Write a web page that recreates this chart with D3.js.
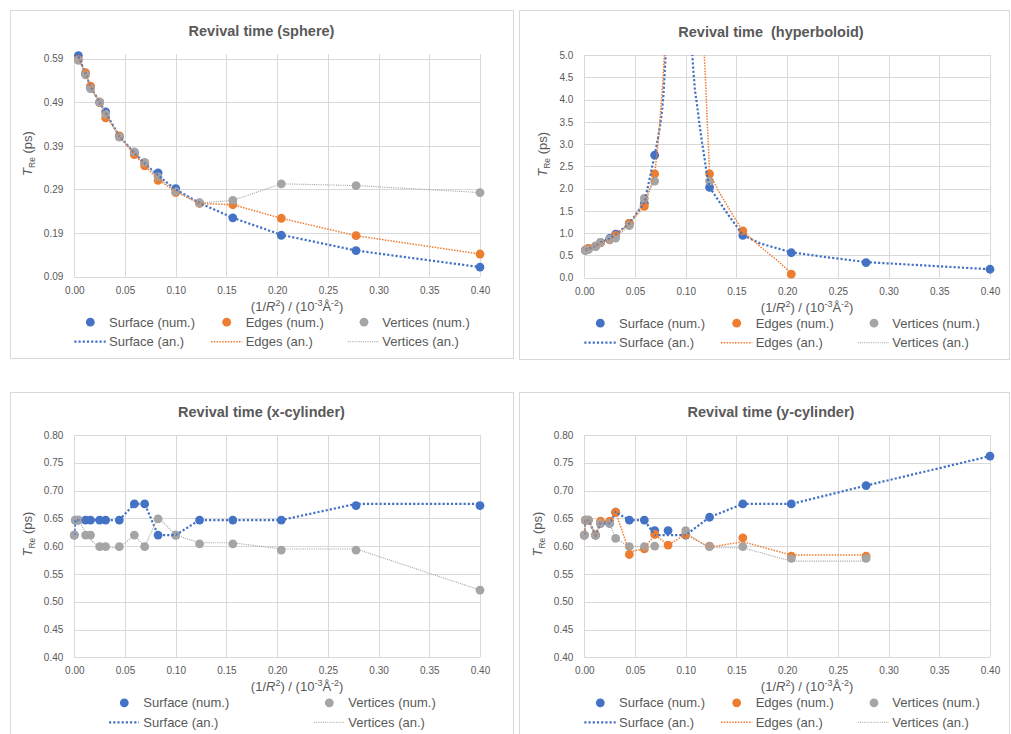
<!DOCTYPE html>
<html><head><meta charset="utf-8">
<script src="https://cdn.jsdelivr.net/npm/d3@7"></script>
<style>
body{margin:0;background:#fff}
svg text{font-family:"Liberation Sans",Arial,sans-serif;fill:#595959;white-space:pre}
</style>
</head><body>
<svg id="c" width="1011" height="734"></svg>
<script>
// ---------------- DATA ----------------
const xTicks = [0, 0.05, 0.10, 0.15, 0.20, 0.25, 0.30, 0.35, 0.40];
const sphereYTicks = [0.09, 0.19, 0.29, 0.39, 0.49, 0.59];
const hypYTicks = [0, 0.5, 1, 1.5, 2, 2.5, 3, 3.5, 4, 4.5, 5];
const cylYTicks = [0.40, 0.45, 0.50, 0.55, 0.60, 0.65, 0.70, 0.75, 0.80];

// Sphere
const sphereX = [0.004, 0.0111, 0.016, 0.025, 0.0309, 0.0444, 0.0592, 0.0694, 0.0826, 0.1, 0.1235, 0.1563, 0.2041, 0.2778, 0.4];
const sphereSurfNum = [0.597, 0.555, 0.524, 0.49, 0.468, 0.412, 0.375, 0.35, 0.328, 0.292, 0.259, 0.225, 0.185, 0.15, 0.112];
const sphereEdgeNum = [0.588, 0.558, 0.527, 0.49, 0.454, 0.413, 0.37, 0.344, 0.311, 0.283, 0.258, 0.255, 0.224, 0.184, 0.142];
const sphereVertNum = [0.586, 0.553, 0.521, 0.49, 0.463, 0.41, 0.376, 0.352, 0.319, 0.285, 0.259, 0.265, 0.303, 0.299, 0.283];
const sphereSurfAn = [0.595, 0.556, 0.525, 0.49, 0.466, 0.412, 0.374, 0.35, 0.322, 0.29, 0.259, 0.225, 0.186, 0.15, 0.112];
const sphereEdgeAn = [0.59, 0.558, 0.526, 0.49, 0.46, 0.413, 0.37, 0.345, 0.313, 0.285, 0.258, 0.255, 0.224, 0.184, 0.142];
const sphereVertAn = [0.588, 0.554, 0.522, 0.49, 0.464, 0.41, 0.376, 0.35, 0.318, 0.286, 0.259, 0.265, 0.303, 0.299, 0.283];

// Hyperboloid
const hypX = [0.001, 0.004, 0.0111, 0.016, 0.025, 0.0309, 0.0444, 0.0592, 0.0694, 0.1235, 0.1563, 0.2041, 0.2778, 0.4];
const hypSurfNum = [0.62, 0.65, 0.71, 0.79, 0.88, 0.98, 1.22, 1.67, 2.75, 2.03, 0.95, 0.56, 0.34, 0.19];
const hypEdgeNum = [0.62, 0.66, 0.71, 0.78, 0.85, 0.95, 1.22, 1.6, 2.33, 2.33, 1.05, 0.08, null, null];
const hypVertNum = [0.61, 0.63, 0.7, 0.79, 0.86, 0.89, 1.17, 1.78, 2.17, 2.17, null, null, null, null];
const hypSurfAnLeftX = [0.001, 0.004, 0.0111, 0.016, 0.025, 0.0309, 0.0444, 0.0592, 0.0694, 0.0723, 0.0746, 0.0766, 0.0779, 0.0789, 0.0802, 0.081];
const hypSurfAnLeft = [0.62, 0.65, 0.71, 0.79, 0.88, 0.97, 1.22, 1.68, 2.75, 3.09, 3.39, 3.73, 4.06, 4.44, 5.0, 5.3];
const hypSurfAnRightX = [0.1055, 0.1065, 0.1075, 0.1091, 0.1114, 0.1134, 0.1157, 0.1183, 0.1207, 0.1235, 0.1321, 0.142, 0.1563, 0.1732, 0.2041, 0.239, 0.2778, 0.4];
const hypSurfAnRight = [5.4, 5.0, 4.66, 4.21, 3.84, 3.47, 3.09, 2.72, 2.34, 2.03, 1.74, 1.41, 0.96, 0.77, 0.57, 0.46, 0.35, 0.19];
const hypEdgeAnLeftX = [0.001, 0.004, 0.0111, 0.016, 0.025, 0.0309, 0.0444, 0.0592, 0.0694, 0.072, 0.074, 0.0763, 0.0779, 0.079, 0.0796];
const hypEdgeAnLeft = [0.62, 0.66, 0.71, 0.78, 0.85, 0.95, 1.22, 1.6, 2.33, 2.87, 3.39, 4.03, 4.59, 5.0, 5.4];
const hypEdgeAnRightX = [0.118, 0.1183, 0.12, 0.1213, 0.1226, 0.1235, 0.1338, 0.1453, 0.1563, 0.1732, 0.1897, 0.2041];
const hypEdgeAnRight = [5.4, 5.0, 4.21, 3.47, 2.87, 2.33, 1.89, 1.45, 1.05, 0.70, 0.40, 0.10];
const hypVertAnX = [0.001, 0.004, 0.0111, 0.016, 0.025, 0.0309, 0.0444, 0.0592, 0.0694];
const hypVertAn = [0.62, 0.64, 0.71, 0.78, 0.86, 0.9, 1.17, 1.78, 2.17];

// Cylinders
const cylX = [0, 0.001, 0.004, 0.0111, 0.016, 0.025, 0.0309, 0.0444, 0.0592, 0.0694, 0.0826, 0.1, 0.1235, 0.1563, 0.2041, 0.2778, 0.4];
const xcylSurfNum = [0.62, 0.647, 0.647, 0.647, 0.647, 0.647, 0.647, 0.647, 0.676, 0.676, 0.62, 0.62, 0.647, 0.647, 0.647, 0.673, 0.673];
const xcylVertNum = [0.62, 0.647, 0.647, 0.62, 0.62, 0.599, 0.599, 0.599, 0.62, 0.599, 0.649, 0.62, 0.604, 0.604, 0.593, 0.593, 0.521];
const xcylSurfAn = [0.62, 0.647, 0.647, 0.647, 0.647, 0.647, 0.647, 0.647, 0.676, 0.676, 0.62, 0.62, 0.647, 0.647, 0.647, 0.676, 0.676];
const xcylVertAn = [null, 0.647, 0.647, 0.625, 0.612, 0.597, 0.597, 0.597, 0.62, 0.599, 0.652, 0.62, 0.606, 0.606, 0.595, 0.595, 0.521];

const ycylSurfNum = [0.62, 0.647, 0.647, 0.62, 0.641, 0.641, 0.661, 0.647, 0.647, 0.628, 0.628, 0.62, 0.652, 0.676, 0.676, 0.709, 0.762];
const ycylEdgeNum = [0.62, 0.647, 0.647, 0.62, 0.645, 0.645, 0.661, 0.585, 0.595, 0.621, 0.602, 0.621, 0.6, 0.615, 0.582, 0.582, null];
const ycylVertNum = [0.62, 0.647, 0.647, 0.62, 0.641, 0.641, 0.614, 0.599, 0.599, 0.6, null, 0.628, 0.599, 0.599, 0.578, 0.578, null];
const ycylSurfAn = [0.62, 0.647, 0.647, 0.62, 0.641, 0.641, 0.661, 0.647, 0.647, 0.62, 0.62, 0.62, 0.652, 0.676, 0.676, 0.709, 0.762];
const ycylEdgeAn = [0.62, 0.647, 0.647, 0.62, 0.645, 0.645, 0.661, 0.59, 0.595, 0.621, 0.602, 0.621, 0.598, 0.608, 0.584, 0.584, null];
const ycylVertAn = [0.62, 0.647, 0.647, 0.62, 0.641, 0.641, 0.614, 0.599, 0.599, 0.6, null, 0.624, 0.597, 0.597, 0.573, 0.573, null];

// ---------------- STYLE ----------------
const C = {surf: "#4472C4", edge: "#ED7D31", vert: "#A5A5A5"};
const LS = {
  surf: {w: 2.2, dash: "2.2 2"},
  edge: {w: 1.5, dash: "1.5 1.3"},
  vert: {w: 1.1, dash: "1.1 1.1"}
};
const zip = (xs, ys) => xs.map((x, i) => [x, ys[i]]);

const panels = [
  {title: "Revival time (sphere)", box: [10, 10, 503, 348], titleX: 261.5, titleY: 36,
   px: [74.3, 480], py: [276.7, 54.3], yDomain: [0.09, 0.6], yTicks: sphereYTicks, yFmt: ".2f", yTitleX: 27.5,
   cols3: true,
   points: [["surf", zip(sphereX, sphereSurfNum)], ["edge", zip(sphereX, sphereEdgeNum)], ["vert", zip(sphereX, sphereVertNum)]],
   lines: [["surf", zip(sphereX, sphereSurfAn)], ["edge", zip(sphereX, sphereEdgeAn)], ["vert", zip(sphereX, sphereVertAn)]]},
  {title: "Revival time  (hyperboloid)", box: [519, 10, 490, 349], titleX: 771, titleY: 37,
   px: [584.3, 990], py: [277.7, 55], yDomain: [0, 5], yTicks: hypYTicks, yFmt: ".1f", yTitleX: 542,
   cols3: true,
   points: [["surf", zip(hypX, hypSurfNum)], ["edge", zip(hypX, hypEdgeNum)], ["vert", zip(hypX, hypVertNum)]],
   lines: [["surf", zip(hypSurfAnLeftX, hypSurfAnLeft)], ["surf", zip(hypSurfAnRightX, hypSurfAnRight)],
           ["edge", zip(hypEdgeAnLeftX, hypEdgeAnLeft)], ["edge", zip(hypEdgeAnRightX, hypEdgeAnRight)],
           ["vert", zip(hypVertAnX, hypVertAn)]]},
  {title: "Revival time (x-cylinder)", box: [10, 392, 503, 360], titleX: 261.5, titleY: 416.7,
   px: [74.3, 480], py: [657.3, 435], yDomain: [0.4, 0.8], yTicks: cylYTicks, yFmt: ".2f", yTitleX: 27.5,
   cols3: false,
   points: [["surf", zip(cylX, xcylSurfNum)], ["vert", zip(cylX, xcylVertNum)]],
   lines: [["surf", zip(cylX, xcylSurfAn)], ["vert", zip(cylX, xcylVertAn)]]},
  {title: "Revival time (y-cylinder)", box: [519, 392, 490, 360], titleX: 771, titleY: 416.7,
   px: [584.3, 990], py: [657.3, 435], yDomain: [0.4, 0.8], yTicks: cylYTicks, yFmt: ".2f", yTitleX: 537.5,
   cols3: true,
   points: [["surf", zip(cylX, ycylSurfNum)], ["edge", zip(cylX, ycylEdgeNum)], ["vert", zip(cylX, ycylVertNum)]],
   lines: [["surf", zip(cylX, ycylSurfAn)], ["edge", zip(cylX, ycylEdgeAn)], ["vert", zip(cylX, ycylVertAn)]]}
];

const svg = d3.select("#c");
const defs = svg.append("defs");
const labels = {surf: "Surface", edge: "Edges", vert: "Vertices"};

panels.forEach((p, pi) => {
  const g = svg.append("g");
  g.append("rect").attr("x", p.box[0] + 0.5).attr("y", p.box[1] + 0.5)
    .attr("width", p.box[2]).attr("height", p.box[3])
    .attr("fill", "#fff").attr("stroke", "#d9d9d9").attr("stroke-width", 1);

  const x = d3.scaleLinear().domain([0, 0.4]).range(p.px);
  const y = d3.scaleLinear().domain(p.yDomain).range(p.py);

  // title
  g.append("text").attr("x", p.titleX).attr("y", p.titleY).attr("text-anchor", "middle")
    .attr("xml:space", "preserve")
    .style("font-size", "14.5px").style("font-weight", "bold").text(p.title);

  // grid
  const top = p.py[1], bot = p.py[0];
  g.append("g").selectAll("line.h").data(p.yTicks).join("line")
    .attr("x1", p.px[0]).attr("x2", p.px[1])
    .attr("y1", d => Math.round(y(d)) + 0.5).attr("y2", d => Math.round(y(d)) + 0.5)
    .attr("stroke", "#d9d9d9").attr("stroke-width", 1);
  g.append("g").selectAll("line.v").data(xTicks).join("line")
    .attr("x1", d => Math.round(x(d)) + 0.5).attr("x2", d => Math.round(x(d)) + 0.5)
    .attr("y1", top).attr("y2", bot)
    .attr("stroke", "#d9d9d9").attr("stroke-width", 1);

  // axes via d3 axis (labels only)
  const yAx = d3.axisLeft(y).tickValues(p.yTicks).tickFormat(d3.format(p.yFmt)).tickSize(0).tickPadding(11);
  const ya = g.append("g").attr("transform", `translate(${p.px[0]},0)`).call(yAx);
  ya.select(".domain").remove();
  ya.selectAll("text").style("font-size", "10px").style("font-family", '"Liberation Sans",Arial,sans-serif').attr("fill", "#595959");

  const xAx = d3.axisBottom(x).tickValues(xTicks).tickFormat(d3.format(".2f")).tickSize(0).tickPadding(10);
  const xa = g.append("g").attr("transform", `translate(0,${bot})`).call(xAx);
  xa.select(".domain").remove();
  xa.selectAll("text").style("font-size", "10px").style("font-family", '"Liberation Sans",Arial,sans-serif').attr("fill", "#595959");

  // axis titles
  const xt = g.append("text").attr("x", (p.px[0] + p.px[1]) / 2 + 20).attr("y", bot + 34)
    .attr("text-anchor", "middle").style("font-size", "13px");
  xt.append("tspan").text("(1/");
  xt.append("tspan").style("font-style", "italic").text("R");
  xt.append("tspan").attr("dy", -5).style("font-size", "9px").text("2");
  xt.append("tspan").attr("dy", 5).text(") / (10");
  xt.append("tspan").attr("dy", -5).style("font-size", "9px").text("-3");
  xt.append("tspan").attr("dy", 5).text("Å");
  xt.append("tspan").attr("dy", -5).style("font-size", "9px").text("-2");
  xt.append("tspan").attr("dy", 5).text(")");

  const yc = (top + bot) / 2 - 12;
  const yt = g.append("text").attr("transform", `translate(${p.yTitleX + 4.5},${yc}) rotate(-90)`)
    .attr("text-anchor", "middle").style("font-size", "13px");
  yt.append("tspan").style("font-style", "italic").text("T");
  yt.append("tspan").attr("dy", 3).style("font-size", "8.5px").text("Re");
  yt.append("tspan").attr("dy", -3).text(" (ps)");

  // clip
  const cid = "clip" + pi;
  defs.append("clipPath").attr("id", cid).append("rect")
    .attr("x", p.px[0]).attr("y", top).attr("width", p.px[1] - p.px[0]).attr("height", bot - top);

  const line = d3.line().defined(d => d[1] != null).x(d => x(d[0])).y(d => y(d[1]));

  // markers
  p.points.forEach(([k, data]) => {
    g.append("g").selectAll("circle").data(data.filter(d => d[1] != null)).join("circle")
      .attr("cx", d => x(d[0])).attr("cy", d => y(d[1])).attr("r", 4.4).attr("fill", C[k]);
  });
  // analytic lines
  const lg = g.append("g").attr("clip-path", `url(#${cid})`);
  p.lines.forEach(([k, data]) => {
    lg.append("path").attr("d", line(data)).attr("fill", "none").attr("stroke", C[k])
      .attr("stroke-width", LS[k].w).attr("stroke-dasharray", LS[k].dash);
  });

  // legend
  const keys = p.points.map(d => d[0]);
  const r1 = bot + 45.5, r2 = bot + 65;
  const L = p.px[0];
  const cols = p.cols3
    ? [{dot: 16, txt: 34.7, l0: 0, l1: 31.4}, {dot: 152.4, txt: 171.4, l0: 136.7, l1: 168}, {dot: 289.7, txt: 308, l0: 273.4, l1: 304.7}]
    : [{dot: 50, txt: 69, l0: 34.7, l1: 64.7}, {dot: 255, txt: 274, l0: 239.7, l1: 270}];
  keys.forEach((k, i) => {
    const c = cols[i];
    g.append("circle").attr("cx", L + c.dot).attr("cy", r1).attr("r", 4.4).attr("fill", C[k]);
    g.append("text").attr("x", L + c.txt).attr("y", r1).attr("dy", "0.35em").style("font-size", "13px")
      .text(labels[k] + " (num.)");
    g.append("line").attr("x1", L + c.l0).attr("x2", L + c.l1).attr("y1", r2).attr("y2", r2)
      .attr("stroke", C[k]).attr("stroke-width", LS[k].w).attr("stroke-dasharray", LS[k].dash);
    g.append("text").attr("x", L + c.txt).attr("y", r2).attr("dy", "0.35em").style("font-size", "13px")
      .text(labels[k] + " (an.)");
  });
});
</script>
</body></html>
